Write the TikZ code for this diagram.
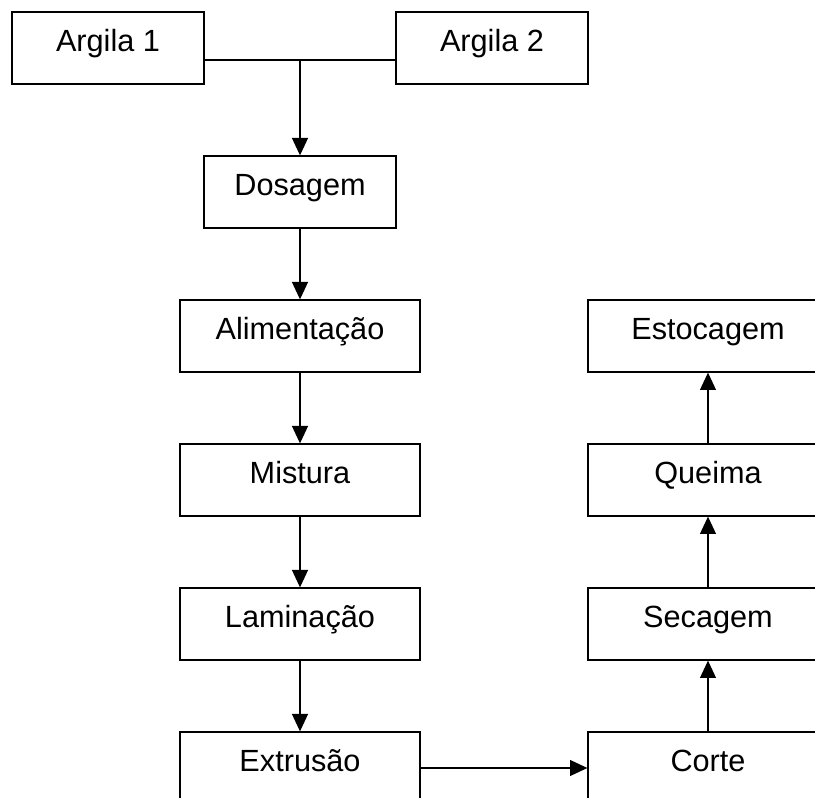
\documentclass[tikz,border=0pt]{standalone}
\usepackage{fontspec}
\setmainfont{Liberation Sans}
\usetikzlibrary{arrows.meta}
\begin{document}
\begin{tikzpicture}[x=0.75pt,y=-0.75pt,
                    etapa/.style={draw,line width=1pt,inner ysep=0pt,
                                  text height=29.5pt,text depth=24.5pt,
                                  font=\fontsize{23}{28}\selectfont},
                    seta/.style={line width=0.9pt,-{Triangle[length=13pt,width=12pt]}}]
  \useasboundingbox (0,0) rectangle (815,798);
  \node[etapa,minimum width=144pt] (argila1) at (108,48) {Argila 1};
  \node[etapa,minimum width=144pt] (argila2) at (492,48) {Argila 2};
  \node[etapa,minimum width=144pt] (dosagem) at (300,192) {Dosagem};
  \foreach \nome/\texto/\y in {alimentacao/Alimentação/336,mistura/Mistura/480,
                               laminacao/Laminação/624,extrusao/Extrusão/768}
    \node[etapa,minimum width=180pt] (\nome) at (300,\y) {\texto};
  \foreach \nome/\texto/\y in {estocagem/Estocagem/336,queima/Queima/480,
                               secagem/Secagem/624,corte/Corte/768}
    \node[etapa,minimum width=180pt] (\nome) at (708,\y) {\texto};
  \coordinate (juncao) at (300,60);
  \draw[line width=0.9pt] (argila1.east |- juncao) -- (argila2.west |- juncao);
  \draw[seta] (juncao) -- (dosagem);
  \draw[seta] (dosagem) -- (alimentacao);
  \draw[seta] (alimentacao) -- (mistura);
  \draw[seta] (mistura) -- (laminacao);
  \draw[seta] (laminacao) -- (extrusao);
  \draw[seta] (extrusao) -- (corte);
  \draw[seta] (corte) -- (secagem);
  \draw[seta] (secagem) -- (queima);
  \draw[seta] (queima) -- (estocagem);
\end{tikzpicture}
\end{document}
